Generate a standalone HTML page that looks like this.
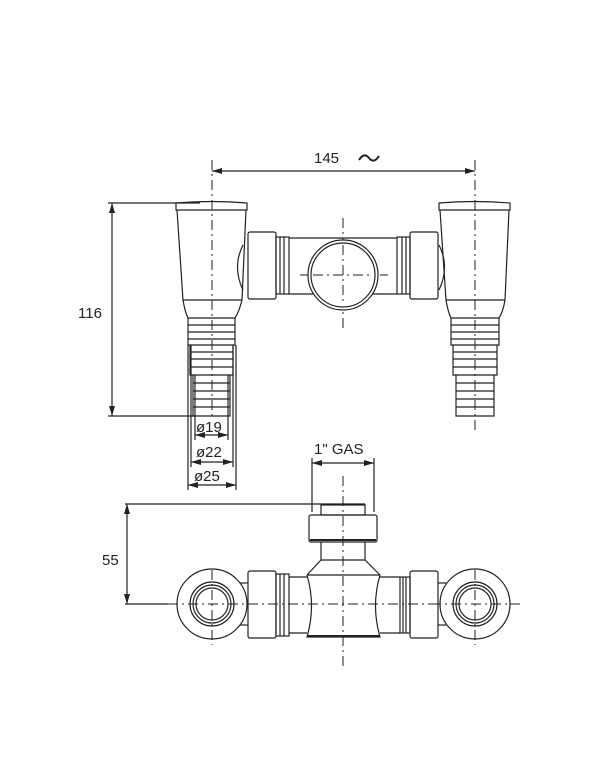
<!DOCTYPE html>
<html><head><meta charset="utf-8"><style>
html,body{margin:0;padding:0;background:#fff;}
svg{display:block;}
text{font-family:"Liberation Sans",sans-serif;font-size:15px;fill:#222;}
</style></head><body>
<svg width="605" height="759" viewBox="0 0 605 759" xmlns="http://www.w3.org/2000/svg">
<defs>
<marker id="a" viewBox="0 0 10 6" refX="10" refY="3" markerWidth="10" markerHeight="6" orient="auto-start-reverse" markerUnits="userSpaceOnUse"><path d="M0,0L10,3L0,6z" fill="#222"/></marker>
</defs>
<g stroke="#222" stroke-width="1.2" fill="none">
<!-- centerlines -->
<g stroke-dasharray="10,4,2,4" stroke-width="1">
<line x1="212" y1="160" x2="212" y2="418"/>
<line x1="475" y1="160" x2="475" y2="430"/>
<line x1="343" y1="218" x2="343" y2="328"/>
<line x1="300" y1="275" x2="388" y2="275"/>
<line x1="343" y1="476" x2="343" y2="668"/>
<line x1="168" y1="604" x2="520" y2="604"/>
<line x1="212" y1="570" x2="212" y2="645"/>
<line x1="475" y1="570" x2="475" y2="645"/>
</g>
<!-- 145 dim -->
<line x1="212" y1="171" x2="475" y2="171" marker-start="url(#a)" marker-end="url(#a)"/>
<path d="M359,160 q5,-8 10,-2 q5,6 10,-2" stroke-width="2"/>
<!-- 116 dim -->
<line x1="108" y1="203" x2="200" y2="203"/>
<line x1="108" y1="416" x2="195" y2="416"/>
<line x1="112" y1="203" x2="112" y2="416" marker-start="url(#a)" marker-end="url(#a)"/>
<!-- left fitting -->
<path d="M176,203 Q212,200 247,203 L247,210 L176,210 Z"/>
<path d="M177,210 L183,300 L242,300 L246,210"/>
<path d="M183,300 Q185,312 188,318 L235,318 Q239,312 242,300"/>
<path d="M188,318 L188,345 L235,345 L235,318 M188,325 H235 M188,332 H235 M188,339 H235"/>
<path d="M190,345 L190,375 L233,375 L233,345 M190,352 H233 M190,359 H233 M190,367 H233"/>
<path d="M193,375 L193,416 L230,416 L230,375 M193,383 H230 M193,391 H230 M193,399 H230 M193,407 H230"/>
<path d="M243,245 Q232,267 243,290"/>
<!-- right fitting -->
<path d="M439,203 Q475,200 510,203 L510,210 L439,210 Z"/>
<path d="M440,210 L446,300 L505,300 L509,210"/>
<path d="M446,300 Q448,312 451,318 L499,318 Q503,312 505,300"/>
<path d="M451,318 L451,345 L499,345 L499,318 M451,325 H499 M451,332 H499 M451,339 H499"/>
<path d="M453,345 L453,375 L497,375 L497,345 M453,352 H497 M453,359 H497 M453,367 H497"/>
<path d="M456,375 L456,416 L494,416 L494,375 M456,383 H494 M456,391 H494 M456,399 H494 M456,407 H494"/>
<path d="M439,245 Q450,267 439,290"/>
<!-- middle top view -->
<rect x="248" y="232" width="28" height="67" rx="2"/>
<rect x="276" y="237" width="13" height="57"/>
<line x1="280" y1="237" x2="280" y2="294"/><line x1="284" y1="237" x2="284" y2="294"/>
<line x1="289" y1="238" x2="397" y2="238"/><line x1="289" y1="294" x2="397" y2="294"/>
<rect x="397" y="237" width="13" height="57"/>
<line x1="402" y1="237" x2="402" y2="294"/><line x1="406" y1="237" x2="406" y2="294"/>
<rect x="410" y="232" width="28" height="67" rx="2"/>
<circle cx="343" cy="275" r="35" fill="#fff"/>
<circle cx="343" cy="275" r="32"/>
<g stroke-dasharray="10,4,2,4" stroke-width="1"><line x1="343" y1="245" x2="343" y2="305"/><line x1="313" y1="275" x2="373" y2="275"/></g>
<!-- diameter dims -->
<line x1="188" y1="345" x2="188" y2="490"/>
<line x1="191" y1="345" x2="191" y2="467"/>
<line x1="195" y1="375" x2="195" y2="440"/>
<line x1="228" y1="375" x2="228" y2="440"/>
<line x1="233" y1="345" x2="233" y2="467"/>
<line x1="236" y1="345" x2="236" y2="490"/>
<line x1="195" y1="435" x2="228" y2="435" marker-start="url(#a)" marker-end="url(#a)"/>
<line x1="191" y1="462" x2="233" y2="462" marker-start="url(#a)" marker-end="url(#a)"/>
<line x1="188" y1="485" x2="236" y2="485" marker-start="url(#a)" marker-end="url(#a)"/>
<!-- 1" GAS dim -->
<line x1="312" y1="458" x2="312" y2="512"/>
<line x1="374" y1="458" x2="374" y2="512"/>
<line x1="312" y1="463" x2="374" y2="463" marker-start="url(#a)" marker-end="url(#a)"/>
<!-- 55 dim -->
<line x1="125" y1="504" x2="365" y2="504"/>
<line x1="125" y1="604" x2="168" y2="604"/>
<line x1="127" y1="504" x2="127" y2="604" marker-start="url(#a)" marker-end="url(#a)"/>
<!-- bottom view -->
<rect x="321" y="505" width="44" height="10"/>
<rect x="309" y="515" width="68" height="27" rx="2"/>
<line x1="310" y1="540" x2="376" y2="540" stroke-width="2"/>
<path d="M321,542 V560 M365,542 V560 M321,560 H365"/>
<path d="M321,560 L307,575 M365,560 L380,575 M307,575 H380"/>
<path d="M307,575 Q316,606 307,637 H380 Q371,606 380,575"/>
<line x1="307" y1="636" x2="380" y2="636" stroke-width="2"/>
<line x1="289" y1="577" x2="307" y2="577"/><line x1="289" y1="633" x2="307" y2="633"/>
<line x1="380" y1="577" x2="400" y2="577"/><line x1="380" y1="633" x2="400" y2="633"/>
<rect x="248" y="571" width="28" height="67" rx="2"/>
<rect x="276" y="574" width="13" height="62"/>
<line x1="280" y1="574" x2="280" y2="636"/><line x1="284" y1="574" x2="284" y2="636"/>
<rect x="400" y="577" width="10" height="56"/>
<line x1="403" y1="577" x2="403" y2="633"/><line x1="406" y1="577" x2="406" y2="633"/>
<rect x="410" y="571" width="28" height="67" rx="2"/>
<line x1="240" y1="583" x2="248" y2="583"/><line x1="240" y1="625" x2="248" y2="625"/>
<line x1="438" y1="583" x2="446" y2="583"/><line x1="438" y1="625" x2="446" y2="625"/>
<circle cx="212" cy="604" r="35" fill="#fff"/>
<circle cx="212" cy="604" r="22"/><circle cx="212" cy="604" r="19"/><circle cx="212" cy="604" r="16"/>
<circle cx="475" cy="604" r="35" fill="#fff"/>
<circle cx="475" cy="604" r="22"/><circle cx="475" cy="604" r="19"/><circle cx="475" cy="604" r="16"/>
<g stroke-dasharray="10,4,2,4" stroke-width="1">
<line x1="168" y1="604" x2="256" y2="604"/><line x1="431" y1="604" x2="520" y2="604"/>
<line x1="212" y1="570" x2="212" y2="645"/><line x1="475" y1="570" x2="475" y2="645"/>
</g>
</g>
<text x="314" y="163">145</text>
<text x="78" y="318">116</text>
<text x="196" y="432">ø19</text>
<text x="196" y="457">ø22</text>
<text x="194" y="481">ø25</text>
<text x="314" y="454">1" GAS</text>
<text x="102" y="565">55</text>
</svg>
</body></html>
